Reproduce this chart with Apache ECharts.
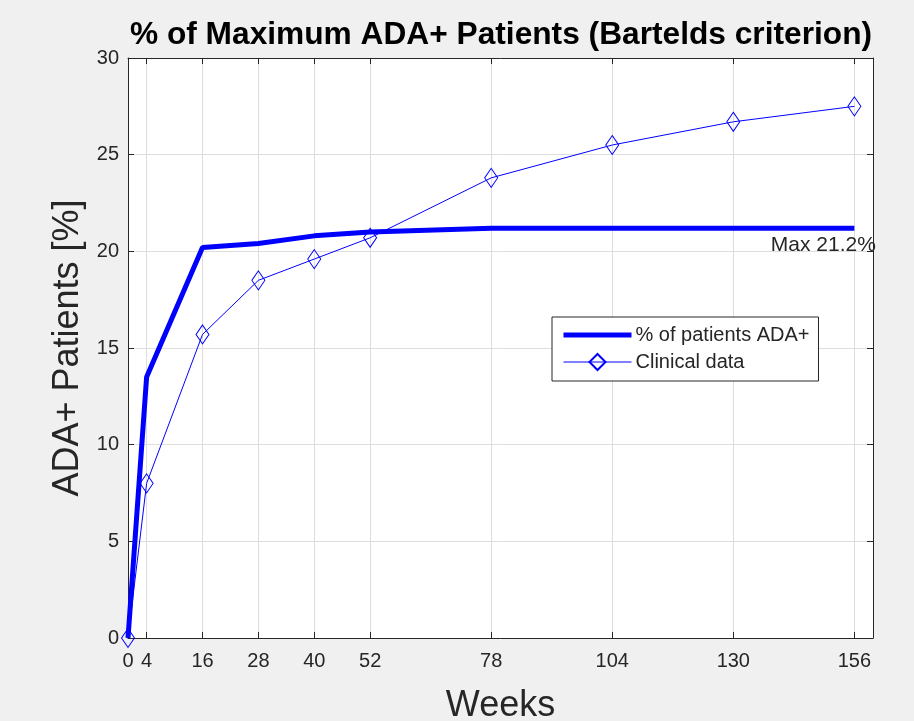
<!DOCTYPE html>
<html>
<head>
<meta charset="utf-8">
<script src="https://cdn.jsdelivr.net/npm/echarts@6/dist/echarts.min.js"></script>
<style>
  html, body { margin: 0; padding: 0; background: #f0f0f0; }
  #chart { width: 914px; height: 721px; }
</style>
</head>
<body>
<div id="chart"></div>
<script>
// Weeks at which values are reported
const weeks = [0, 4, 16, 28, 40, 52, 78, 104, 130, 156];
// Model prediction: % of patients ADA+
const modelPct = [0, 13.5, 20.2, 20.4, 20.8, 21.0, 21.2, 21.2, 21.2, 21.2];
// Observed clinical data
const clinicalPct = [0, 8.0, 15.7, 18.5, 19.6, 20.7, 23.8, 25.5, 26.7, 27.5];
// Tick labels
const xTicks = [0, 4, 16, 28, 40, 52, 78, 104, 130, 156];
const yTicks = [0, 5, 10, 15, 20, 25, 30];

const TEXT = '#262626';
const FONT = '"Liberation Sans", Arial, Helvetica, sans-serif';
const BLUE = '#0000ff';

const maxVal = Math.max(...modelPct);
const lastWeek = weeks[weeks.length - 1];

const chart = echarts.init(document.getElementById('chart'), null, { renderer: 'canvas' });

chart.setOption({
  backgroundColor: '#f0f0f0',
  animation: false,
  title: {
    text: '% of Maximum ADA+ Patients (Bartelds criterion)',
    left: 496,
    textAlign: 'center',
    top: 14,
    textStyle: { fontFamily: FONT, fontSize: 31.7, fontWeight: 'bold', color: '#000' }
  },
  legend: {
    left: 552,
    top: 317,
    orient: 'vertical',
    backgroundColor: '#fff',
    borderColor: '#262626',
    borderWidth: 1,
    borderRadius: 0,
    padding: [8, 9, 9, 9],
    itemWidth: 68,
    itemHeight: 20,
    itemGap: 7,
    textStyle: { fontFamily: FONT, fontSize: 20, color: TEXT, padding: [0, 0, 0, -1] },
    data: [
      { name: '% of patients ADA+', itemStyle: { opacity: 0 }, lineStyle: { width: 5, color: BLUE } },
      { name: 'Clinical data', lineStyle: { width: 1, color: BLUE } }
    ]
  },
  grid: {
    left: 128, top: 58, right: 41, bottom: 83,
    outerBoundsMode: 'none',
    containLabel: false,
    show: true, backgroundColor: '#fff', borderColor: 'transparent'
  },
  xAxis: [{
    type: 'value',
    min: 0,
    max: 160,
    name: 'Weeks',
    nameLocation: 'middle',
    nameGap: 50,
    nameTextStyle: { fontFamily: FONT, fontSize: 36, color: TEXT },
    axisLine: { show: true, lineStyle: { color: TEXT, width: 1 } },
    axisTick: { show: true, inside: true, length: 6, customValues: xTicks, lineStyle: { color: TEXT } },
    axisLabel: { customValues: xTicks, fontFamily: FONT, fontSize: 20, color: TEXT, margin: 13 },
    splitLine: { show: true, lineStyle: { color: '#dedede', width: 1 } }
  }, {
    type: 'value',
    position: 'top',
    min: 0,
    max: 160,
    axisLine: { show: true, onZero: false, lineStyle: { color: TEXT, width: 1 } },
    axisTick: { show: true, inside: true, length: 6, customValues: xTicks, lineStyle: { color: TEXT } },
    axisLabel: { show: false },
    splitLine: { show: false }
  }],
  yAxis: [{
    type: 'value',
    min: 0,
    max: 30,
    interval: 5,
    name: 'ADA+ Patients [%]',
    nameLocation: 'middle',
    nameGap: 42,
    nameTextStyle: { fontFamily: FONT, fontSize: 36, color: TEXT },
    axisLine: { show: true, lineStyle: { color: TEXT, width: 1 } },
    axisTick: { show: true, inside: true, length: 6, lineStyle: { color: TEXT } },
    axisLabel: { fontFamily: FONT, fontSize: 20, color: TEXT, margin: 9,
      formatter: v => yTicks.includes(v) ? String(v) : '' },
    splitLine: { show: true, lineStyle: { color: '#dedede', width: 1 } }
  }, {
    type: 'value',
    position: 'right',
    min: 0,
    max: 30,
    interval: 5,
    axisLine: { show: true, onZero: false, lineStyle: { color: TEXT, width: 1 } },
    axisTick: { show: true, inside: true, length: 6, lineStyle: { color: TEXT } },
    axisLabel: { show: false },
    splitLine: { show: false }
  }],
  series: [{
    name: '% of patients ADA+',
    type: 'line',
    xAxisIndex: 0,
    yAxisIndex: 0,
    data: weeks.map((w, i) => [w, modelPct[i]]),
    symbol: 'none',
    lineStyle: { color: BLUE, width: 5 },
    itemStyle: { color: BLUE },
    markPoint: {
      silent: true,
      symbol: 'circle',
      symbolSize: 0,
      data: [{
        coord: [lastWeek, maxVal],
        label: {
          show: true,
          position: 'bottom',
          distance: 7,
          offset: [-31, 0],
          formatter: 'Max ' + maxVal.toFixed(1) + '%',
          fontFamily: FONT,
          fontSize: 21,
          color: TEXT
        }
      }]
    },
    z: 3
  }, {
    name: 'Clinical data',
    type: 'line',
    xAxisIndex: 0,
    yAxisIndex: 0,
    data: weeks.map((w, i) => [w, clinicalPct[i]]),
    symbol: 'diamond',
    symbolSize: [13, 19],
    showAllSymbol: true,
    lineStyle: { color: BLUE, width: 1 },
    itemStyle: { color: 'transparent', borderColor: BLUE, borderWidth: 1 },
    z: 4
  }]
});
</script>
</body>
</html>
